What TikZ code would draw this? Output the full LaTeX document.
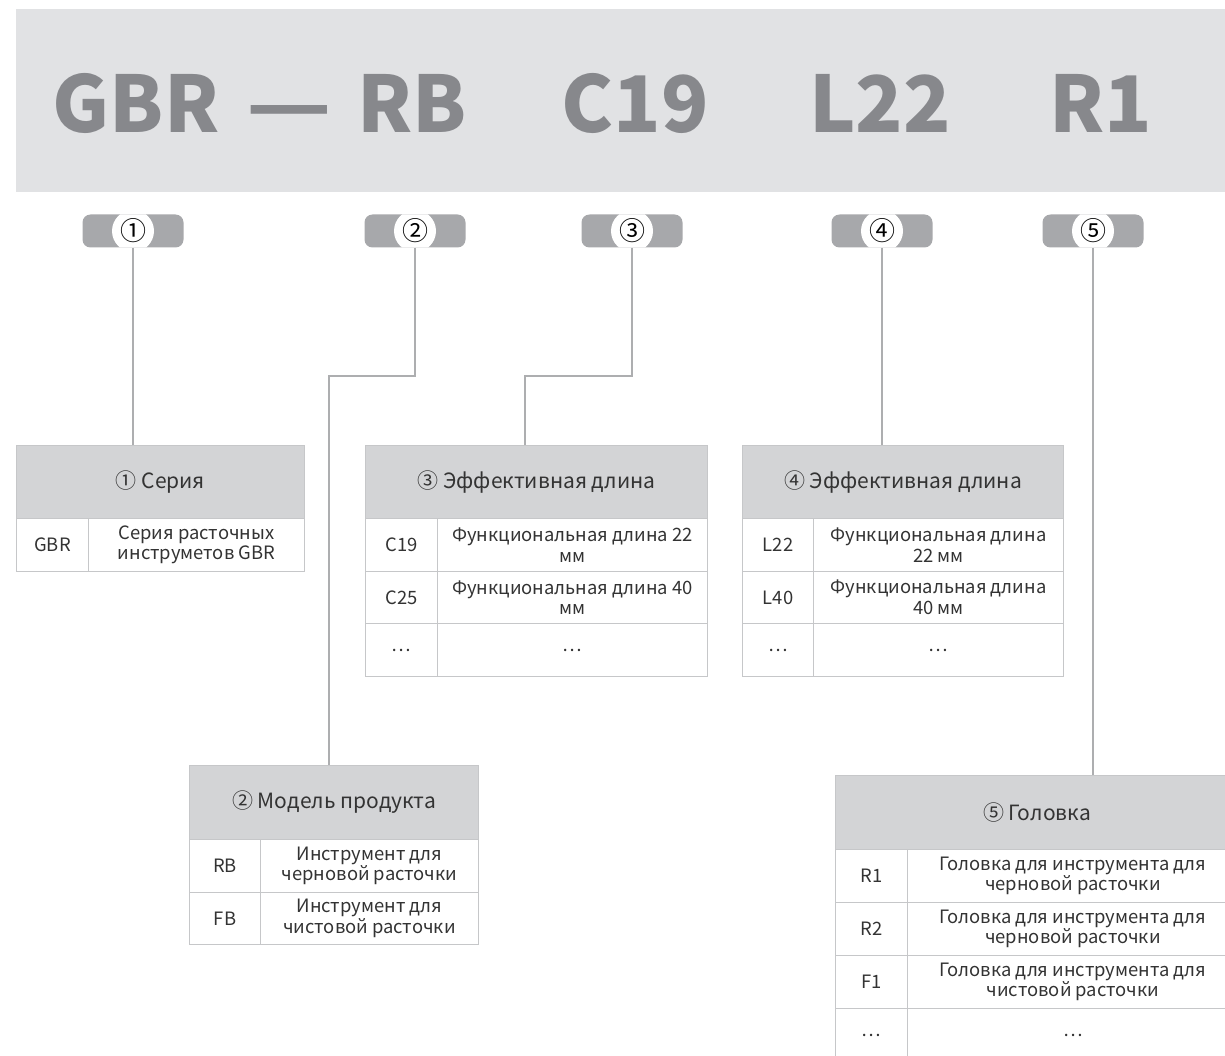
\documentclass[tikz,border=0pt]{standalone}
\usepackage{fontspec}
\setmainfont{Noto Sans CJK SC}
\begin{document}
\begin{tikzpicture}[x=1pt,y=-1pt,
  big/.style={font=\fontsize{78}{86}\selectfont\bfseries, text=bigtxt, inner sep=0pt},
  pill/.style={fill=pillgray, rounded corners=8pt, minimum width=101pt, minimum height=33pt, inner sep=0pt,
     path picture={\fill[white] (path picture bounding box.center) circle (21pt);},
     font=\fontsize{26}{26}\selectfont, text=black},
  conn/.style={draw=conngray, line width=1.3pt},
  hdr/.style={draw=bordergray, fill=hdrgray, line width=1pt, anchor=north west, inner sep=0pt,
     font=\fontsize{21}{24}\selectfont, text=txt},
  cell/.style={draw=bordergray, line width=1pt, anchor=north west, inner sep=0pt, align=center,
     minimum height=53pt, font=\fontsize{18.4}{20.5}\selectfont, text=txt}
]
\definecolor{band}{HTML}{E1E2E4}
\definecolor{bigtxt}{HTML}{87888C}
\definecolor{pillgray}{HTML}{A7A8AB}
\definecolor{conngray}{HTML}{ADAEB0}
\definecolor{bordergray}{HTML}{C6C7C9}
\definecolor{hdrgray}{HTML}{D3D4D6}
\definecolor{txt}{HTML}{333333}
\useasboundingbox (0,0) rectangle (1225,1056);
\clip (0,0) rectangle (1225,1056);
% header band
\fill[band] (16,9) rectangle (1240,192);
\node[big, anchor=base] (g1) at (136,133) {GBR};
\node[big, anchor=base] (g2) at (289,133) {\scalebox{1.2}[1]{—}};
\node[big, anchor=base] (g3) at (412,133) {RB};
\node[big, anchor=base] (g4) at (635,133) {C19};
\node[big, anchor=base] (g5) at (880,133) {L22};
\node[big, anchor=base] (g6) at (1101,133) {R1};
% pills
\node[pill] (p1) at (133,231) {①};
\node[pill] (p2) at (415,231) {②};
\node[pill] (p3) at (632,231) {③};
\node[pill] (p4) at (882,231) {④};
\node[pill] (p5) at (1093,231) {⑤};
% table 1
\node[hdr, minimum width=288pt, minimum height=73pt] (h1) at (16,445) {① Серия};
\node[cell, minimum width=72pt] (c1a) at (16,518) {GBR};
\node[cell, minimum width=216pt] (d1a) at (88,518) {Серия расточных\\инструметов GBR};
% table 3
\node[hdr, minimum width=342pt, minimum height=73pt] (h3) at (365,445) {③ Эффективная длина};
\node[cell, minimum width=72pt] (c3a) at (365,518) {C19};
\node[cell, minimum width=270pt] (d3a) at (437,518) {Функциональная длина 22\\мм};
\node[cell, minimum width=72pt, minimum height=52pt] (c3b) at (365,571) {C25};
\node[cell, minimum width=270pt, minimum height=52pt] (d3b) at (437,571) {Функциональная длина 40\\мм};
\node[cell, minimum width=72pt] (c3c) at (365,623) {…};
\node[cell, minimum width=270pt] (d3c) at (437,623) {…};
% table 4
\node[hdr, minimum width=321pt, minimum height=73pt] (h4) at (742,445) {④ Эффективная длина};
\node[cell, minimum width=71pt] (c4a) at (742,518) {L22};
\node[cell, minimum width=250pt] (d4a) at (813,518) {Функциональная длина\\22 мм};
\node[cell, minimum width=71pt, minimum height=52pt] (c4b) at (742,571) {L40};
\node[cell, minimum width=250pt, minimum height=52pt] (d4b) at (813,571) {Функциональная длина\\40 мм};
\node[cell, minimum width=71pt] (c4c) at (742,623) {…};
\node[cell, minimum width=250pt] (d4c) at (813,623) {…};
% table 2
\node[hdr, minimum width=289pt, minimum height=74pt] (h2) at (189,765) {② Модель продукта};
\node[cell, minimum width=71pt] (c2a) at (189,839) {RB};
\node[cell, minimum width=218pt] (d2a) at (260,839) {Инструмент для\\черновой расточки};
\node[cell, minimum width=71pt, minimum height=52pt] (c2b) at (189,892) {FB};
\node[cell, minimum width=218pt, minimum height=52pt] (d2b) at (260,892) {Инструмент для\\чистовой расточки};
% table 5
\node[hdr, minimum width=403pt, minimum height=74pt] (h5) at (835,775) {⑤ Головка};
\node[cell, minimum width=72pt] (c5a) at (835,849) {R1};
\node[cell, minimum width=331pt] (d5a) at (907,849) {Головка для инструмента для\\черновой расточки};
\node[cell, minimum width=72pt] (c5b) at (835,902) {R2};
\node[cell, minimum width=331pt] (d5b) at (907,902) {Головка для инструмента для\\черновой расточки};
\node[cell, minimum width=72pt] (c5c) at (835,955) {F1};
\node[cell, minimum width=331pt] (d5c) at (907,955) {Головка для инструмента для\\чистовой расточки};
\node[cell, minimum width=72pt] (c5d) at (835,1008) {…};
\node[cell, minimum width=331pt] (d5d) at (907,1008) {…};
% connectors
\coordinate (k2) at (329,376);
\coordinate (k3) at (525,376);
\draw[conn] (p1.south) -- (p1.south |- h1.north);
\draw[conn] (p2.south) |- (k2) -- (k2 |- h2.north);
\draw[conn] (p3.south) |- (k3) -- (k3 |- h3.north);
\draw[conn] (p4.south) -- (p4.south |- h4.north);
\draw[conn] (p5.south) -- (p5.south |- h5.north);
\end{tikzpicture}
\end{document}
